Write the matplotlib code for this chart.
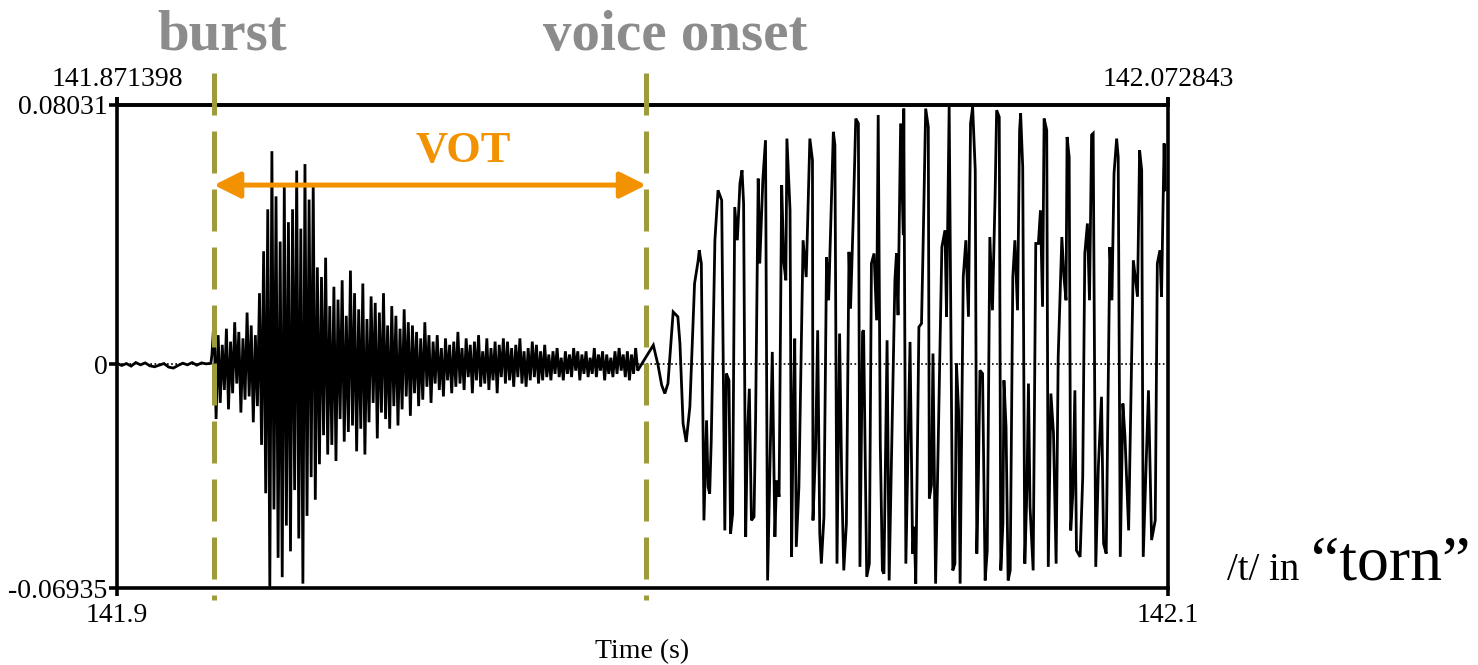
import numpy as np
import matplotlib
matplotlib.use('Agg')
import matplotlib.pyplot as plt

plt.rcParams['font.family'] = ['Liberation Serif', 'DejaVu Serif']

# Вікно часу і межі амплітуди
T_START = 141.871398
T_END = 142.072843
A_MIN = -0.06935
A_MAX = 0.08031

BURST_T = 141.88999
ONSET_T = 141.97281

# До вибуху: майже тиша (мс від початку вікна, амплітуда x1e-3)
pre_ms = [0.0, 0.9, 1.8, 2.7, 3.6, 4.5, 5.4, 6.3, 7.2, 8.1, 9.0, 9.9, 10.8,
          11.7, 12.6, 13.5, 14.4, 15.3, 16.2, 17.1, 18.0]
pre_amp = [0.3, -0.4, 0.2, -0.6, 0.5, -0.2, 0.4, -0.5, -0.8, -0.3, 0.2, -0.9,
           -1.2, -0.4, 0.3, -0.2, 0.5, -0.3, 0.4, 0.1, 0.3]

# Вибух та придих (рівномірні відліки від 18.2 до 100.2 мс)
burst_amp = [3, 14, -17,
             9, -12, 6, -8, 11, -14, 7, -9, 13, -6, 10, -15, 8, -11, 16, -10, 12, -18, 9, -13,
             22, -25, 35, -40, 48,
             -69, 66,
             -45, 52, -60, 38, -66, 55, -50, 44, -58, 48, -39, 60, -54, 42, -68, 62, -47, 51,
             -35, 56, -42, 30,
             -31, 27, -22, 33, -28, 18, -25, 24, -30, 20, -17, 26, -24, 15, -21, 29, -19, 22,
             -27, 17,
             -20, 25, -28, 14, -18, 21, -12, 19, -23, 16, -15, 22, -17, 12, -20, 18, -13, 15,
             -19, 11, -14, 17, -10, 13, -16,
             12, -9, 10, -13, 8, -11, 13, -7, 9, -12,
             7, -6, 9, -8, 5, -10, 8, -5, 6, -9, 7, -7, 10, -6, 5, -8, 8, -4, 6, -9, 7, -5, 9,
             -7, 4, -6, 8, -8, 5, -5, 7, -9, 6, -4, 8,
             -6, 7, -5, 5, -7, 6, -4, 8, -6, 4, -7, 5, -5, 7, -4, 6, -6, 4, -5, 6,
             -4, 3, -5, 4, -3, 5, -4, 2, -5, 4, -3, 3, -4, 5, -2, 4, -5, 3, -3, 4, -4, 2, -3, 5,
             -4, 3, -2, 4, -5, 3, -3, 2, -4, 4, -3, 5, -2, 3, -4, 4, -5, 3, -3, 5, -2]

# Голосова частина
voice_ms = [100.2, 102.8, 103.7, 104.4, 105.0, 105.6, 106.6, 107.5, 107.9, 108.5, 109.1, 109.8,
            110.7, 111.4, 111.6, 112.0, 112.5, 113.0, 113.3, 113.6, 113.9, 114.6, 115.2, 115.9,
            116.5, 116.8, 117.3, 117.6, 118.0, 118.4, 118.9, 119.4, 119.8, 120.1, 120.5, 120.8,
            121.2, 121.6, 122.1, 122.4, 122.9, 123.2, 123.8, 124.3, 124.7, 125.6, 126.1, 126.4,
            126.9, 127.4, 127.8, 128.2, 128.4, 129.0, 129.3, 129.6, 129.9, 130.2, 130.7, 131.5,
            132.1, 132.8, 133.3, 133.4, 133.9, 134.3, 134.7, 135.0, 135.5, 136.0, 136.4, 137.3,
            137.6, 138.0, 138.5, 138.9, 139.3, 139.8, 140.3, 140.6, 141.1, 141.6, 142.1, 142.4,
            142.9, 143.1, 143.7, 144.2, 144.6, 145.1, 145.6, 145.9, 146.3, 146.7, 147.0, 147.6,
            148.0, 149.1, 149.4, 149.7, 150.2, 150.7, 150.8, 151.2, 152.0, 152.5, 152.8, 153.1,
            153.7, 154.2, 154.5, 155.0, 155.5, 155.7, 156.1, 156.4, 156.9,
            158.1, 158.7, 159.0, 159.5, 160.2, 160.6, 160.9, 161.3, 161.6, 162.2, 162.7, 163.2,
            163.6, 164.0, 164.5, 164.8, 165.1, 165.4, 165.9, 166.4, 166.8, 167.3, 167.8, 168.3,
            168.6, 169.1, 169.4, 169.8, 170.0, 170.4, 170.8, 171.2, 171.7, 172.1, 172.6, 173.0,
            173.2, 173.6, 174.0, 174.4, 174.7, 175.0, 175.6, 176.1, 176.6, 177.0, 177.4, 177.7,
            178.2, 178.5, 179.0, 179.5, 180.0, 180.4, 181.1, 181.5, 181.9, 182.1, 182.5, 182.8,
            183.2, 183.6, 183.9, 184.6, 185.1, 185.5, 186.0, 186.4, 186.8, 187.1, 187.6, 188.1,
            188.7, 189.1, 189.6, 190.3, 190.7, 191.1, 191.6, 191.9, 192.3, 192.8, 193.2, 193.9,
            194.8, 195.6, 196.0, 196.4, 196.7, 197.7, 198.3, 199.0, 199.4, 199.9, 200.2, 200.7,
            200.9]
voice_amp = [-0.9, 5.9, -0.3, -6.5, -9.1, -6.0, 16.2, 14.7, 6.4, -18.4, -24.1, -13.2,
             25.0, 32.2, 35.3, 31.2, -48.4, -17.4, -38.0, -40.1, -23.6, 38.4, 53.9, 50.8,
             -51.5, -2.9, -5.0, -52.5, -46.3, 48.7, 38.4, 56.0, 60.1, 49.8, -53.5, -23.6,
             -7.6, -48.4, -47.3, -16.9, 57.5, 31.2, 57.5, 69.4, -67.0, 3.8, -53.5, -36.0,
             -41.1, 55.5, 31.7, 26.0, 69.9, 47.7, -59.7, -17.4, 7.9, -56.6, -38.0, 38.4,
             27.0, 69.9, 63.2, -48.4, -26.2, 10.5, -52.5, -61.8, -47.3, 33.2, 19.8, 72.0,
             67.9, -61.8, 9.5, -35.0, -63.9, -49.4, 34.8, 17.2, 44.6, 76.1, 74.6, -62.8,
             10.0, 10.5, -65.9, -61.8, 31.2, 34.3, 13.6, 77.2, -24.6, -63.9, -64.9, 7.4,
             -67.0, 26.0, 34.3, 15.2, 74.6, 40.0, 79.2, -61.8, 6.9, -58.7, -50.4, -68.0,
             11.5, 12.6, 36.3, 79.2, 73.5, -41.6, -37.5, 3.3, -68.0,
             36.3, 41.5, 14.7, 79.7, -63.9, -61.8, 0.2, -14.3, -68.0, 27.0, 38.4, 14.7,
             74.6, 79.7, 60.1, -58.7, -35.0, -1.9, -2.9, -67.0, -57.7, 39.4, 16.7, 51.8,
             78.7, 76.6, -63.9, -49.4, -5.0, -19.4, -67.0, -63.9, 27.0, 38.4, 16.7, 72.5,
             77.7, 61.1, -61.8, -39.1, -6.0, -44.2, -63.9, 37.4, 37.4, 47.7, 17.8, 76.1,
             72.5, -62.8, -9.1, -21.5, -61.8, 2.3, 39.4, 27.0, 19.8, 70.4, 64.2, -51.5,
             -40.1, -8.1, -57.7, -59.7, -35.0, 34.3, 43.6, 19.8, 71.0, 71.5, -62.8, -31.8,
             -10.1, -55.6, -58.7, 36.3, 19.8, 59.1, 69.9, 64.2, -59.7, -12.2, -22.5, -51.5,
             32.2, 20.9, 66.3, 60.1, -59.7, -8.1, -54.5, -48.4, 31.2, 35.3, 20.9, 68.4,
             54.0]

W, H = 1478, 665


def fx(px):
    return px / W


def fy(py):
    return 1 - py / H


# Збирання сигналу
burst_ms = np.linspace(18.2, 100.2, len(burst_amp), endpoint=False)
t = np.concatenate([pre_ms, burst_ms, voice_ms]) / 1000 + T_START
a = np.concatenate([pre_amp, burst_amp, voice_amp]) / 1000

fig = plt.figure(figsize=(W / 100, H / 100), dpi=100)
ax = fig.add_axes([fx(117), fy(588), fx(1168) - fx(117), fy(105) - fy(588)])

ax.plot(t, a, color='black', lw=2.0, solid_joinstyle='miter')
ax.axhline(0, color='black', lw=1.2, ls=(0, (1, 1.5)))
ax.set_xlim(T_START, T_END)
ax.set_ylim(A_MIN, A_MAX)

for s in ax.spines.values():
    s.set_linewidth(2.6)

ax.set_yticks([A_MIN, 0, A_MAX], ['-0.06935', '0', '0.08031'])
ax.set_xticks([T_START, T_END], ['141.9', '142.1'])
ax.tick_params(axis='both', direction='out', length=6, width=2.6, labelsize=20, pad=1)
ax.tick_params(axis='x', top=True, pad=5)

top = ax.secondary_xaxis('top')
top.set_xticks([T_START, T_END], ['141.871398', '142.072843'])
top.tick_params(direction='out', length=6, width=2.6, labelsize=20, pad=3)
top.spines['top'].set_linewidth(2.6)

fig.text(fx(642), fy(664), 'Time (s)', ha='center', va='bottom', fontsize=20)

# Позначки вибуху і початку голосу
olive = '#9e9b3b'
for xv in [BURST_T, ONSET_T]:
    ax.plot([xv, xv], [0.0902, -0.0731], color=olive, lw=3.6, ls=(0, (8.4, 3.2)),
            clip_on=False, zorder=5)

ax.annotate('', xy=(BURST_T, 0.0555), xytext=(ONSET_T, 0.0555),
            arrowprops=dict(arrowstyle='<|-|>', color='#f39200', lw=3.6,
                            mutation_scale=40, shrinkA=0, shrinkB=0), zorder=6)
ax.text(141.93772, 0.0627, 'VOT', ha='center', va='baseline',
        fontsize=32, fontweight='bold', color='#f39200')

fig.text(fx(222), fy(50), 'burst', ha='center', va='baseline', fontsize=41,
         fontweight='bold', color='#8c8c8c')
fig.text(fx(675), fy(50), 'voice onset', ha='center', va='baseline', fontsize=41,
         fontweight='bold', color='#8c8c8c')

fig.text(fx(1227), fy(580), '/t/ in', ha='left', va='baseline', fontsize=28)
fig.text(fx(1311), fy(580), '\u201ctorn\u201d', ha='left', va='baseline', fontsize=46)

fig.savefig('out.png', dpi=100)
